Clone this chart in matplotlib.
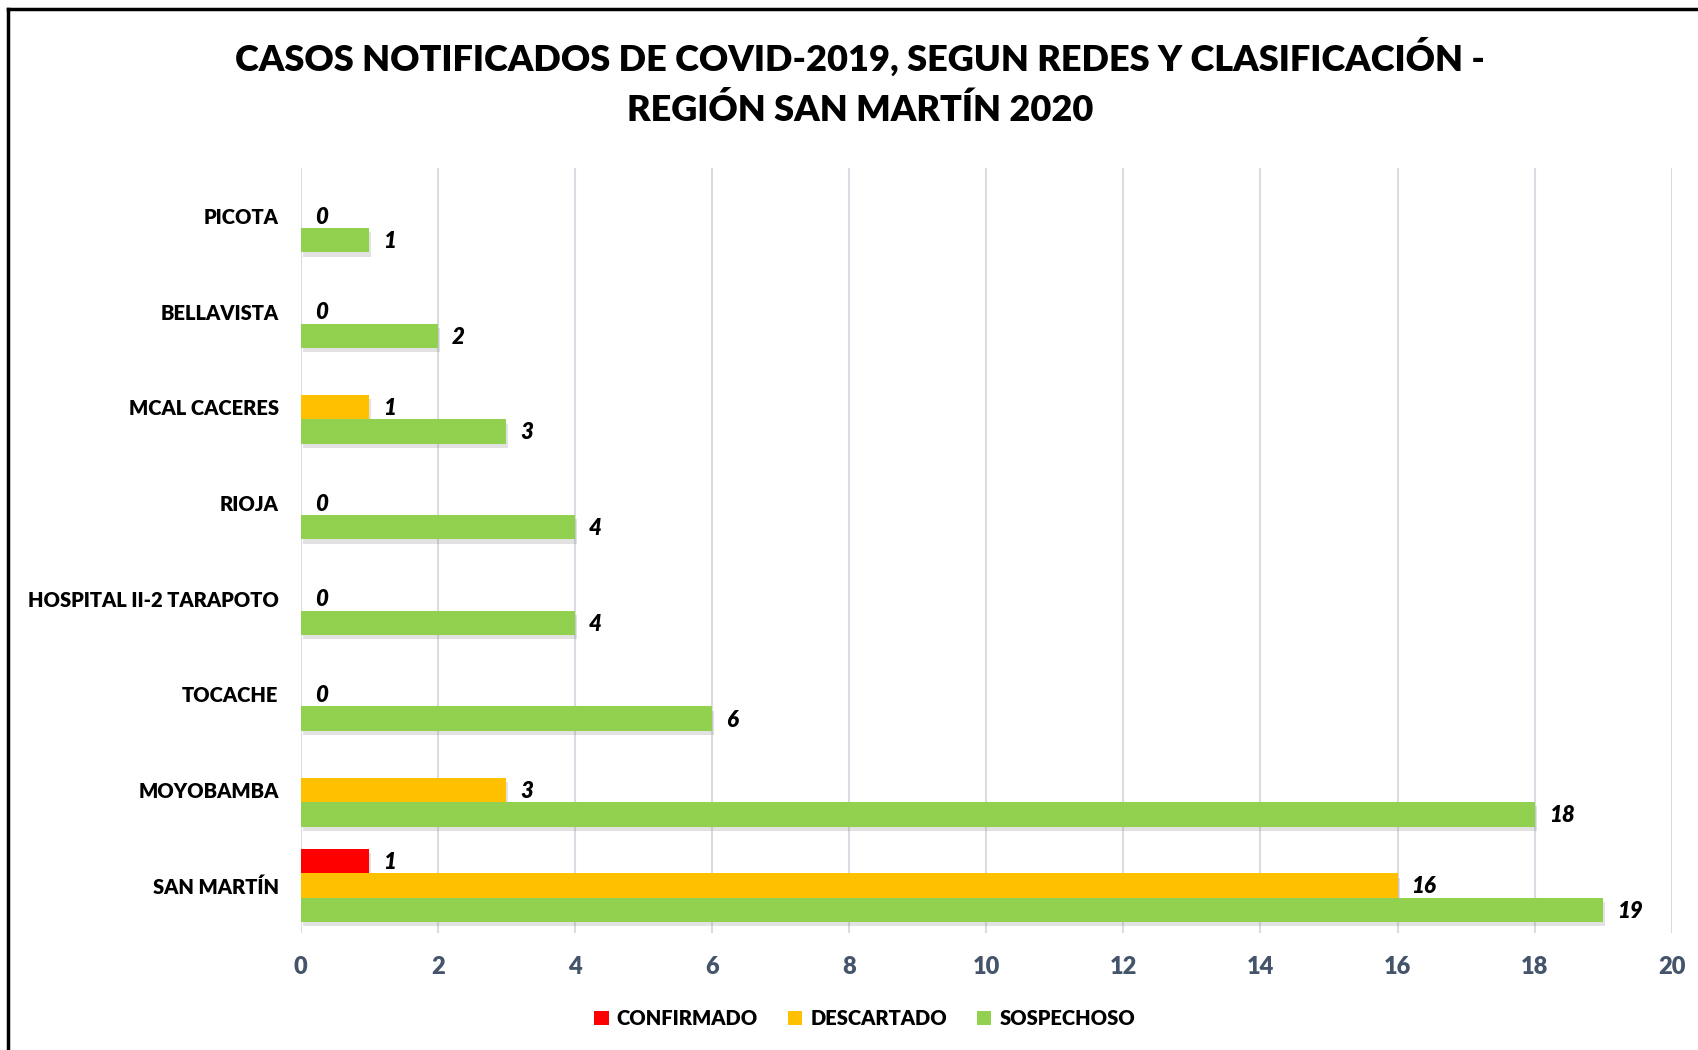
import numpy as np
import matplotlib
matplotlib.use("Agg")
import matplotlib.pyplot as plt
import matplotlib.patheffects as pe
from matplotlib.patches import Patch
from matplotlib.lines import Line2D

plt.rcParams['font.family'] = ['Lato', 'DejaVu Sans']

categories = ["SAN MARTÍN", "MOYOBAMBA", "TOCACHE", "HOSPITAL II-2 TARAPOTO",
              "RIOJA", "MCAL CACERES", "BELLAVISTA", "PICOTA"]
confirmado = [1, np.nan, np.nan, np.nan, np.nan, np.nan, np.nan, np.nan]
descartado = [16, 3, 0, 0, 0, 1, 0, 0]
sospechoso = [19, 18, 6, 4, 4, 3, 2, 1]
series_names = ["CONFIRMADO", "DESCARTADO", "SOSPECHOSO"]
colors = ["#FF0000", "#FFC000", "#92D050"]
xticks = [0, 2, 4, 6, 8, 10, 12, 14, 16, 18, 20]

fig = plt.figure(figsize=(16.99, 10.5), dpi=100)
ax = fig.add_axes([0.177, 0.111, 0.807, 0.729])

y = np.arange(len(categories))
h = 0.255
offsets = [h, 0, -h]
shadow = [pe.SimplePatchShadow(offset=(1.5, -3), alpha=0.22, shadow_rgbFace='#7f7f7f'), pe.Normal()]
for vals, off, col in zip([confirmado, descartado, sospechoso], offsets, colors):
    vals = np.array(vals, dtype=float)
    bars = ax.barh(y + off, np.nan_to_num(vals), height=h, color=col, zorder=3)
    for b, v in zip(bars, vals):
        if v > 0:
            b.set_path_effects(shadow)
        if not np.isnan(v):
            ax.annotate(f"{int(v)}", (v, b.get_y() + h / 2), xytext=(10, -1),
                        textcoords="offset points", ha="left", va="center",
                        fontsize=16, fontweight="heavy", fontstyle="italic",
                        color="black", zorder=4)

ax.set_xlim(0, 20)
ax.set_ylim(-0.5, 7.5)
ax.set_xticks(xticks)
ax.set_xticklabels([str(t) for t in xticks], fontsize=17, fontweight="heavy", color="#44546A")
ax.set_yticks(y)
ax.set_yticklabels(categories, fontsize=14.5, fontweight="heavy", color="black")
ax.tick_params(axis="both", length=0)
ax.tick_params(axis="x", pad=16)
ax.tick_params(axis="y", pad=16)
ax.xaxis.grid(True, color="#D9DCE3", linewidth=1.5, zorder=0)
ax.set_axisbelow(True)
for s in ax.spines.values():
    s.set_visible(False)

fig.text(0.506, 0.946, "CASOS NOTIFICADOS DE COVID-2019, SEGUN REDES Y CLASIFICACIÓN -",
         ha="center", va="center", fontsize=26, fontweight="heavy")
fig.text(0.506, 0.895, "REGIÓN SAN MARTÍN 2020",
         ha="center", va="center", fontsize=26, fontweight="heavy")

handles = [Patch(facecolor=c, edgecolor="none") for c in colors]
fig.legend(handles, series_names, loc="center", bbox_to_anchor=(0.509, 0.030),
           ncol=3, frameon=False, prop={"size": 14.5, "weight": "heavy"},
           handlelength=0.7, handleheight=0.7, handletextpad=0.4, columnspacing=1.5)

# outer frame (left and top edges visible)
fig.add_artist(Line2D([0.005, 0.005], [0, 0.991], color="black", linewidth=2.5, transform=fig.transFigure))
fig.add_artist(Line2D([0.005, 1.0], [0.991, 0.991], color="black", linewidth=2.5, transform=fig.transFigure))

fig.savefig("out.png", dpi=100, facecolor="white")
